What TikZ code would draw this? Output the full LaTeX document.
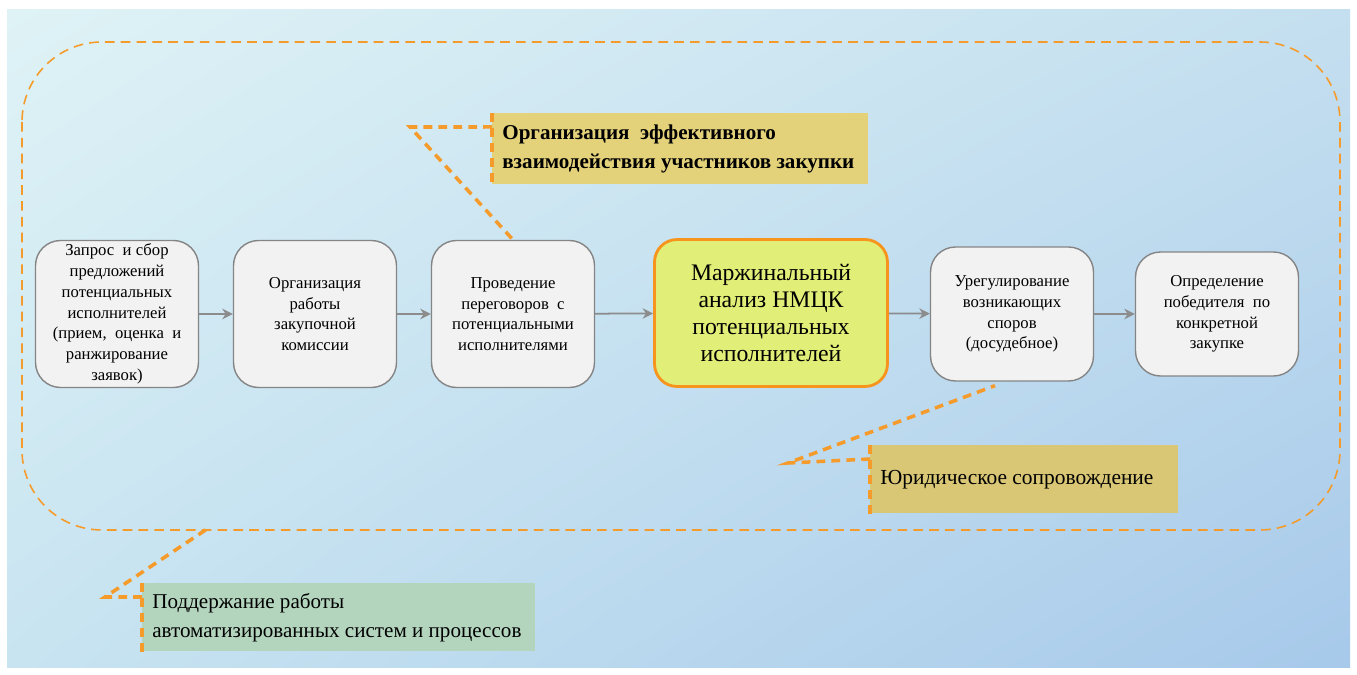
\documentclass[tikz,border=0pt]{standalone}
\usepackage{fontspec}
\setmainfont{Liberation Serif}
\newfontfamily\notefont{Liberation Serif}
\usetikzlibrary{arrows.meta}
\usetikzlibrary{shadings}

\definecolor{bgtl}{HTML}{DFF3F6}
\definecolor{bgtr}{HTML}{C4DFEF}
\definecolor{bgbl}{HTML}{C8E4F1}
\definecolor{bgbr}{HTML}{A7C9EA}
\definecolor{dashorange}{HTML}{F59B2B}
\definecolor{boxgray}{HTML}{F2F2F2}
\definecolor{boxline}{HTML}{858585}
\definecolor{keyfill}{HTML}{E1EE77}
\definecolor{keyline}{HTML}{F7941D}
\definecolor{notetan}{HTML}{E3D27A}
\definecolor{notetan2}{HTML}{D9C776}
\definecolor{notegreen}{HTML}{B3D5BE}
\definecolor{flowgray}{HTML}{8C8C8C}

\tikzset{
  procbox/.style={draw=boxline, line width=0.8pt, fill=boxgray, rounded corners=0.5cm,
    minimum width=3.26cm, inner sep=0pt, align=center,
    font=\notefont\fontsize{9.5}{11.8}\selectfont},
  keybox/.style={draw=keyline, line width=1.6pt, fill=keyfill, rounded corners=0.45cm,
    minimum width=4.66cm, minimum height=2.94cm, inner sep=0pt, align=center,
    font=\notefont\fontsize{13.5}{15.3}\selectfont},
  notebox/.style={anchor=north west, inner xsep=0.2cm, inner ysep=0pt, align=flush left,
    font=\notefont\fontsize{12}{16.4}\selectfont},
  leader/.style={draw=dashorange, line width=2pt, dash pattern=on 5pt off 3.5pt},
  framebox/.style={draw=dashorange, line width=0.9pt, dash pattern=on 5.5pt off 3.5pt,
    rounded corners=1.6cm},
  flow/.style={draw=flowgray, line width=1pt, -{Stealth[length=6pt,width=6pt]}}
}

\begin{document}
\begin{tikzpicture}[x=0.02cm, y=-0.02cm]
  \useasboundingbox (0,0) rectangle (1357,675);
  % background
  \shade[upper left=bgtl, upper right=bgtr, lower left=bgbl, lower right=bgbr]
    (7,10) rectangle (1350,668);
  \draw[framebox] (22,42) rectangle (1340,530);

  % process chain
  \node[procbox, minimum height=2.94cm] (p1) at (117,314)
    {Запрос \ и сбор\\предложений\\потенциальных\\исполнителей\\(прием, \ оценка \ и\\ранжирование\\заявок)};
  \node[procbox, minimum height=2.94cm] (p2) at (315,314)
    {Организация\\работы\\закупочной\\комиссии};
  \node[procbox, minimum height=2.94cm] (p3) at (513,314)
    {Проведение\\переговоров \ с\\потенциальными\\исполнителями};
  \node[keybox] (p4) at (771,313)
    {Маржинальный\\анализ НМЦК\\потенциальных\\исполнителей};
  \node[procbox, minimum height=2.68cm] (p5) at (1012,314)
    {Урегулирование\\возникающих\\споров\\(досудебное)};
  \node[procbox, minimum height=2.48cm] (p6) at (1217,314)
    {Определение\\победителя \ по\\конкретной\\закупке};

  \foreach \a/\b in {p1/p2, p2/p3, p3/p4, p4/p5, p5/p6}
    \draw[flow] (\a) -- (\b);

  % notes
  \node[notebox, fill=notetan, text width=7.12cm, minimum height=1.42cm,
    font=\notefont\fontsize{12}{16.4}\selectfont\bfseries] (n1) at (492,113)
    {Организация \ эффективного\\взаимодействия участников закупки};
  \node[notebox, fill=notetan2, text width=5.76cm, minimum height=1.36cm,
    font=\notefont\fontsize{12.2}{16.4}\selectfont] (n2) at (870,445)
    {Юридическое сопровождение};
  \node[notebox, fill=notegreen, text width=7.46cm, minimum height=1.36cm] (n3) at (142,583)
    {Поддержание работы\\автоматизированных систем и процессов};

  % leaders
  \coordinate (k1) at (410,127);
  \coordinate (k2) at (788,463);
  \coordinate (k3) at (105,597);
  \coordinate (f3) at (210,527);
  \draw[leader] (n1.north west) -- (n1.south west);
  \draw[leader] ([yshift=-0.28cm]n1.north west) -- (k1) -- (p3.north);
  \draw[leader] (n2.north west) -- (n2.south west);
  \draw[leader] ([yshift=-0.28cm]n2.north west) -- (k2) -- ([xshift=-0.34cm,yshift=-0.08cm]p5.south);
  \draw[leader] (n3.north west) -- (n3.south west);
  \draw[leader] ([yshift=-0.28cm]n3.north west) -- (k3) -- (f3);
\end{tikzpicture}
\end{document}
